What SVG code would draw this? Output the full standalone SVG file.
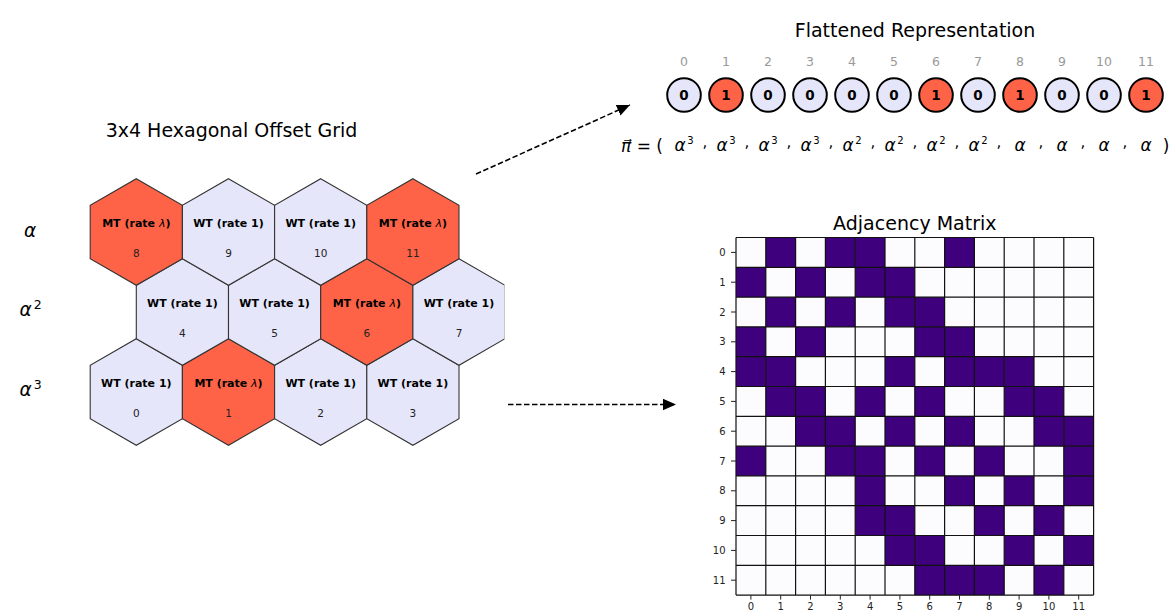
<svg xmlns="http://www.w3.org/2000/svg" width="1172" height="612" viewBox="0 0 1172 612">
<style>
text{font-family:"DejaVu Sans","Liberation Sans",sans-serif;}
.title{font-size:19px;fill:#000;text-anchor:middle;}
.hex{stroke:#333;stroke-width:1.1;stroke-linejoin:miter;}
.wt{fill:#E6E6FA;}
.mt{fill:#FF6347;}
.hl{font-size:11px;font-weight:bold;fill:#000;text-anchor:middle;}
.hn{font-size:10.5px;fill:#222;text-anchor:middle;}
.lam{font-style:italic;font-weight:normal;}
.rowlab{font-size:18.5px;font-style:italic;fill:#000;}
.sup{font-size:12.5px;font-style:normal;}
.idx{font-size:12.5px;fill:#999;text-anchor:middle;}
.bit{stroke:#000;stroke-width:2;}
.bt{font-size:13.5px;font-weight:bold;fill:#000;text-anchor:middle;}
.f{font-size:17px;fill:#000;}
.fa{font-size:17px;font-style:italic;fill:#000;text-anchor:middle;}
.fs{font-size:10px;fill:#000;}
.fc{font-size:15px;fill:#000;text-anchor:middle;}
.off{fill:#FCFBFD;}
.on{fill:#3F007D;}
.grid{stroke:#111;stroke-width:1.2;fill:none;}
.tick{stroke:#222;stroke-width:1;}
.tl{font-size:10px;fill:#222;}
.conn{stroke:#000;stroke-width:1.6;stroke-dasharray:5.5 2.5;fill:none;}
</style>
<defs>
<marker id="ah" markerUnits="userSpaceOnUse" markerWidth="14" markerHeight="12" refX="13" refY="5.75" orient="auto">
<path d="M0,0 L13,5.75 L0,11.5 Z" fill="#000"/>
</marker>
<clipPath id="hexclip"><rect x="0" y="150" width="504.5" height="320"/></clipPath>
</defs>

<!-- Hex grid -->
<text class="title" x="231.5" y="137">3x4 Hexagonal Offset Grid</text>
<g id="row-labels">
<text class="rowlab" x="30" y="236.5" text-anchor="middle">α</text>
<text class="rowlab" x="19.5" y="315.5">α<tspan class="sup" dx="2" dy="-6.5">2</tspan></text>
<text class="rowlab" x="19.5" y="395.5">α<tspan class="sup" dx="2" dy="-6.5">3</tspan></text>
</g>
<g id="hex-grid" clip-path="url(#hexclip)">
<g id="hex-0"><polygon class="hex wt" points="136.3,338.7 182.4,365.35 182.4,418.65 136.3,445.3 90.2,418.65 90.2,365.35"/><text class="hl" x="136.3" y="386.7">WT (rate 1)</text><text class="hn" x="136.3" y="417.4">0</text></g>
<g id="hex-1"><polygon class="hex mt" points="228.5,338.7 274.6,365.35 274.6,418.65 228.5,445.3 182.4,418.65 182.4,365.35"/><text class="hl" x="228.5" y="386.7">MT (rate <tspan class="lam">λ</tspan>)</text><text class="hn" x="228.5" y="417.4">1</text></g>
<g id="hex-2"><polygon class="hex wt" points="320.7,338.7 366.8,365.35 366.8,418.65 320.7,445.3 274.6,418.65 274.6,365.35"/><text class="hl" x="320.7" y="386.7">WT (rate 1)</text><text class="hn" x="320.7" y="417.4">2</text></g>
<g id="hex-3"><polygon class="hex wt" points="412.9,338.7 459,365.35 459,418.65 412.9,445.3 366.8,418.65 366.8,365.35"/><text class="hl" x="412.9" y="386.7">WT (rate 1)</text><text class="hn" x="412.9" y="417.4">3</text></g>
<g id="hex-4"><polygon class="hex wt" points="182.4,258.7 228.5,285.35 228.5,338.65 182.4,365.3 136.3,338.65 136.3,285.35"/><text class="hl" x="182.4" y="306.7">WT (rate 1)</text><text class="hn" x="182.4" y="337.4">4</text></g>
<g id="hex-5"><polygon class="hex wt" points="274.6,258.7 320.7,285.35 320.7,338.65 274.6,365.3 228.5,338.65 228.5,285.35"/><text class="hl" x="274.6" y="306.7">WT (rate 1)</text><text class="hn" x="274.6" y="337.4">5</text></g>
<g id="hex-6"><polygon class="hex mt" points="366.8,258.7 412.9,285.35 412.9,338.65 366.8,365.3 320.7,338.65 320.7,285.35"/><text class="hl" x="366.8" y="306.7">MT (rate <tspan class="lam">λ</tspan>)</text><text class="hn" x="366.8" y="337.4">6</text></g>
<g id="hex-7"><polygon class="hex wt" points="459,258.7 505.1,285.35 505.1,338.65 459,365.3 412.9,338.65 412.9,285.35"/><text class="hl" x="459" y="306.7">WT (rate 1)</text><text class="hn" x="459" y="337.4">7</text></g>
<g id="hex-8"><polygon class="hex mt" points="136.3,178.7 182.4,205.35 182.4,258.65 136.3,285.3 90.2,258.65 90.2,205.35"/><text class="hl" x="136.3" y="226.7">MT (rate <tspan class="lam">λ</tspan>)</text><text class="hn" x="136.3" y="257.4">8</text></g>
<g id="hex-9"><polygon class="hex wt" points="228.5,178.7 274.6,205.35 274.6,258.65 228.5,285.3 182.4,258.65 182.4,205.35"/><text class="hl" x="228.5" y="226.7">WT (rate 1)</text><text class="hn" x="228.5" y="257.4">9</text></g>
<g id="hex-10"><polygon class="hex wt" points="320.7,178.7 366.8,205.35 366.8,258.65 320.7,285.3 274.6,258.65 274.6,205.35"/><text class="hl" x="320.7" y="226.7">WT (rate 1)</text><text class="hn" x="320.7" y="257.4">10</text></g>
<g id="hex-11"><polygon class="hex mt" points="412.9,178.7 459,205.35 459,258.65 412.9,285.3 366.8,258.65 366.8,205.35"/><text class="hl" x="412.9" y="226.7">MT (rate <tspan class="lam">λ</tspan>)</text><text class="hn" x="412.9" y="257.4">11</text></g>
</g>

<!-- Flattened representation -->
<text class="title" x="915" y="36.5">Flattened Representation</text>
<g id="flat-indices">
<text class="idx" x="684" y="65.5">0</text><text class="idx" x="726" y="65.5">1</text><text class="idx" x="768" y="65.5">2</text><text class="idx" x="810" y="65.5">3</text><text class="idx" x="852" y="65.5">4</text><text class="idx" x="894" y="65.5">5</text><text class="idx" x="936" y="65.5">6</text><text class="idx" x="978" y="65.5">7</text><text class="idx" x="1020" y="65.5">8</text><text class="idx" x="1062" y="65.5">9</text><text class="idx" x="1104" y="65.5">10</text><text class="idx" x="1146" y="65.5">11</text>
</g>
<g id="bit-0"><circle class="bit wt" cx="684" cy="95" r="16.8"/><text class="bt" x="684" y="99.8">0</text></g>
<g id="bit-1"><circle class="bit mt" cx="726" cy="95" r="16.8"/><text class="bt" x="726" y="99.8">1</text></g>
<g id="bit-2"><circle class="bit wt" cx="768" cy="95" r="16.8"/><text class="bt" x="768" y="99.8">0</text></g>
<g id="bit-3"><circle class="bit wt" cx="810" cy="95" r="16.8"/><text class="bt" x="810" y="99.8">0</text></g>
<g id="bit-4"><circle class="bit wt" cx="852" cy="95" r="16.8"/><text class="bt" x="852" y="99.8">0</text></g>
<g id="bit-5"><circle class="bit wt" cx="894" cy="95" r="16.8"/><text class="bt" x="894" y="99.8">0</text></g>
<g id="bit-6"><circle class="bit mt" cx="936" cy="95" r="16.8"/><text class="bt" x="936" y="99.8">1</text></g>
<g id="bit-7"><circle class="bit wt" cx="978" cy="95" r="16.8"/><text class="bt" x="978" y="99.8">0</text></g>
<g id="bit-8"><circle class="bit mt" cx="1020" cy="95" r="16.8"/><text class="bt" x="1020" y="99.8">1</text></g>
<g id="bit-9"><circle class="bit wt" cx="1062" cy="95" r="16.8"/><text class="bt" x="1062" y="99.8">0</text></g>
<g id="bit-10"><circle class="bit wt" cx="1104" cy="95" r="16.8"/><text class="bt" x="1104" y="99.8">0</text></g>
<g id="bit-11"><circle class="bit mt" cx="1146" cy="95" r="16.8"/><text class="bt" x="1146" y="99.8">1</text></g>

<g id="formula">
<text class="f" x="621" y="152"><tspan font-style="italic">π⃗</tspan> = (</text>
<text class="fa" x="684" y="150.5">α<tspan class="fs" font-style="normal" dx="1.5" dy="-7">3</tspan></text>
<text class="fa" x="726" y="150.5">α<tspan class="fs" font-style="normal" dx="1.5" dy="-7">3</tspan></text>
<text class="fa" x="768" y="150.5">α<tspan class="fs" font-style="normal" dx="1.5" dy="-7">3</tspan></text>
<text class="fa" x="810" y="150.5">α<tspan class="fs" font-style="normal" dx="1.5" dy="-7">3</tspan></text>
<text class="fa" x="852" y="150.5">α<tspan class="fs" font-style="normal" dx="1.5" dy="-7">2</tspan></text>
<text class="fa" x="894" y="150.5">α<tspan class="fs" font-style="normal" dx="1.5" dy="-7">2</tspan></text>
<text class="fa" x="936" y="150.5">α<tspan class="fs" font-style="normal" dx="1.5" dy="-7">2</tspan></text>
<text class="fa" x="978" y="150.5">α<tspan class="fs" font-style="normal" dx="1.5" dy="-7">2</tspan></text>
<text class="fa" x="1020" y="150.5">α</text>
<text class="fa" x="1062" y="150.5">α</text>
<text class="fa" x="1104" y="150.5">α</text>
<text class="fa" x="1146" y="150.5">α</text>
<text class="fc" x="705" y="147">,</text><text class="fc" x="747" y="147">,</text><text class="fc" x="789" y="147">,</text><text class="fc" x="831" y="147">,</text><text class="fc" x="873" y="147">,</text><text class="fc" x="915" y="147">,</text><text class="fc" x="957" y="147">,</text><text class="fc" x="999" y="147">,</text><text class="fc" x="1041" y="147">,</text><text class="fc" x="1083" y="147">,</text><text class="fc" x="1125" y="147">,</text>
<text class="f" x="1166" y="152" text-anchor="middle">)</text>
</g>

<!-- Adjacency matrix -->
<text class="title" x="914.8" y="230">Adjacency Matrix</text>
<g id="adjacency-matrix" transform="translate(736 237.5)">
<rect class="off" x="0" y="0" width="357.6" height="357.6"/>
<g id="cells-row-0"><rect class="on" x="29.8" y="0" width="29.8" height="29.8"/><rect class="on" x="89.4" y="0" width="29.8" height="29.8"/><rect class="on" x="119.2" y="0" width="29.8" height="29.8"/><rect class="on" x="208.6" y="0" width="29.8" height="29.8"/></g>
<g id="cells-row-1"><rect class="on" x="0" y="29.8" width="29.8" height="29.8"/><rect class="on" x="59.6" y="29.8" width="29.8" height="29.8"/><rect class="on" x="119.2" y="29.8" width="29.8" height="29.8"/><rect class="on" x="149" y="29.8" width="29.8" height="29.8"/></g>
<g id="cells-row-2"><rect class="on" x="29.8" y="59.6" width="29.8" height="29.8"/><rect class="on" x="89.4" y="59.6" width="29.8" height="29.8"/><rect class="on" x="149" y="59.6" width="29.8" height="29.8"/><rect class="on" x="178.8" y="59.6" width="29.8" height="29.8"/></g>
<g id="cells-row-3"><rect class="on" x="0" y="89.4" width="29.8" height="29.8"/><rect class="on" x="59.6" y="89.4" width="29.8" height="29.8"/><rect class="on" x="178.8" y="89.4" width="29.8" height="29.8"/><rect class="on" x="208.6" y="89.4" width="29.8" height="29.8"/></g>
<g id="cells-row-4"><rect class="on" x="0" y="119.2" width="29.8" height="29.8"/><rect class="on" x="29.8" y="119.2" width="29.8" height="29.8"/><rect class="on" x="149" y="119.2" width="29.8" height="29.8"/><rect class="on" x="208.6" y="119.2" width="29.8" height="29.8"/><rect class="on" x="238.4" y="119.2" width="29.8" height="29.8"/><rect class="on" x="268.2" y="119.2" width="29.8" height="29.8"/></g>
<g id="cells-row-5"><rect class="on" x="29.8" y="149" width="29.8" height="29.8"/><rect class="on" x="59.6" y="149" width="29.8" height="29.8"/><rect class="on" x="119.2" y="149" width="29.8" height="29.8"/><rect class="on" x="178.8" y="149" width="29.8" height="29.8"/><rect class="on" x="268.2" y="149" width="29.8" height="29.8"/><rect class="on" x="298" y="149" width="29.8" height="29.8"/></g>
<g id="cells-row-6"><rect class="on" x="59.6" y="178.8" width="29.8" height="29.8"/><rect class="on" x="89.4" y="178.8" width="29.8" height="29.8"/><rect class="on" x="149" y="178.8" width="29.8" height="29.8"/><rect class="on" x="208.6" y="178.8" width="29.8" height="29.8"/><rect class="on" x="298" y="178.8" width="29.8" height="29.8"/><rect class="on" x="327.8" y="178.8" width="29.8" height="29.8"/></g>
<g id="cells-row-7"><rect class="on" x="0" y="208.6" width="29.8" height="29.8"/><rect class="on" x="89.4" y="208.6" width="29.8" height="29.8"/><rect class="on" x="119.2" y="208.6" width="29.8" height="29.8"/><rect class="on" x="178.8" y="208.6" width="29.8" height="29.8"/><rect class="on" x="238.4" y="208.6" width="29.8" height="29.8"/><rect class="on" x="327.8" y="208.6" width="29.8" height="29.8"/></g>
<g id="cells-row-8"><rect class="on" x="119.2" y="238.4" width="29.8" height="29.8"/><rect class="on" x="208.6" y="238.4" width="29.8" height="29.8"/><rect class="on" x="268.2" y="238.4" width="29.8" height="29.8"/><rect class="on" x="327.8" y="238.4" width="29.8" height="29.8"/></g>
<g id="cells-row-9"><rect class="on" x="119.2" y="268.2" width="29.8" height="29.8"/><rect class="on" x="149" y="268.2" width="29.8" height="29.8"/><rect class="on" x="238.4" y="268.2" width="29.8" height="29.8"/><rect class="on" x="298" y="268.2" width="29.8" height="29.8"/></g>
<g id="cells-row-10"><rect class="on" x="149" y="298" width="29.8" height="29.8"/><rect class="on" x="178.8" y="298" width="29.8" height="29.8"/><rect class="on" x="268.2" y="298" width="29.8" height="29.8"/><rect class="on" x="327.8" y="298" width="29.8" height="29.8"/></g>
<g id="cells-row-11"><rect class="on" x="178.8" y="327.8" width="29.8" height="29.8"/><rect class="on" x="208.6" y="327.8" width="29.8" height="29.8"/><rect class="on" x="238.4" y="327.8" width="29.8" height="29.8"/><rect class="on" x="298" y="327.8" width="29.8" height="29.8"/></g>
<path class="grid" d="M0,0V357.6M29.8,0V357.6M59.6,0V357.6M89.4,0V357.6M119.2,0V357.6M149,0V357.6M178.8,0V357.6M208.6,0V357.6M238.4,0V357.6M268.2,0V357.6M298,0V357.6M327.8,0V357.6M357.6,0V357.6M0,0H357.6M0,29.8H357.6M0,59.6H357.6M0,89.4H357.6M0,119.2H357.6M0,149H357.6M0,178.8H357.6M0,208.6H357.6M0,238.4H357.6M0,268.2H357.6M0,298H357.6M0,327.8H357.6M0,357.6H357.6"/>
<path class="tick" d="M-5,14.9H0M-5,44.7H0M-5,74.5H0M-5,104.3H0M-5,134.1H0M-5,163.9H0M-5,193.7H0M-5,223.5H0M-5,253.3H0M-5,283.1H0M-5,312.9H0M-5,342.7H0M14.9,357.6V362.1M44.7,357.6V362.1M74.5,357.6V362.1M104.3,357.6V362.1M134.1,357.6V362.1M163.9,357.6V362.1M193.7,357.6V362.1M223.5,357.6V362.1M253.3,357.6V362.1M283.1,357.6V362.1M312.9,357.6V362.1M342.7,357.6V362.1"/>
<g class="tl" text-anchor="end">
<text x="-10.5" y="18.5">0</text><text x="-10.5" y="48.3">1</text><text x="-10.5" y="78.1">2</text><text x="-10.5" y="107.9">3</text><text x="-10.5" y="137.7">4</text><text x="-10.5" y="167.5">5</text><text x="-10.5" y="197.3">6</text><text x="-10.5" y="227.1">7</text><text x="-10.5" y="256.9">8</text><text x="-10.5" y="286.7">9</text><text x="-10.5" y="316.5">10</text><text x="-10.5" y="346.3">11</text>
</g>
<g class="tl" text-anchor="middle" font-size="9.5">
<text x="14.9" y="372.5">0</text><text x="44.7" y="372.5">1</text><text x="74.5" y="372.5">2</text><text x="104.3" y="372.5">3</text><text x="134.1" y="372.5">4</text><text x="163.9" y="372.5">5</text><text x="193.7" y="372.5">6</text><text x="223.5" y="372.5">7</text><text x="253.3" y="372.5">8</text><text x="283.1" y="372.5">9</text><text x="312.9" y="372.5">10</text><text x="342.7" y="372.5">11</text>
</g>
</g>

<g id="connectors">
<path class="conn" d="M476,174 L630,105" marker-end="url(#ah)"/>
<path class="conn" d="M508,404.5 L676,404.5" marker-end="url(#ah)"/>
</g>
</svg>
